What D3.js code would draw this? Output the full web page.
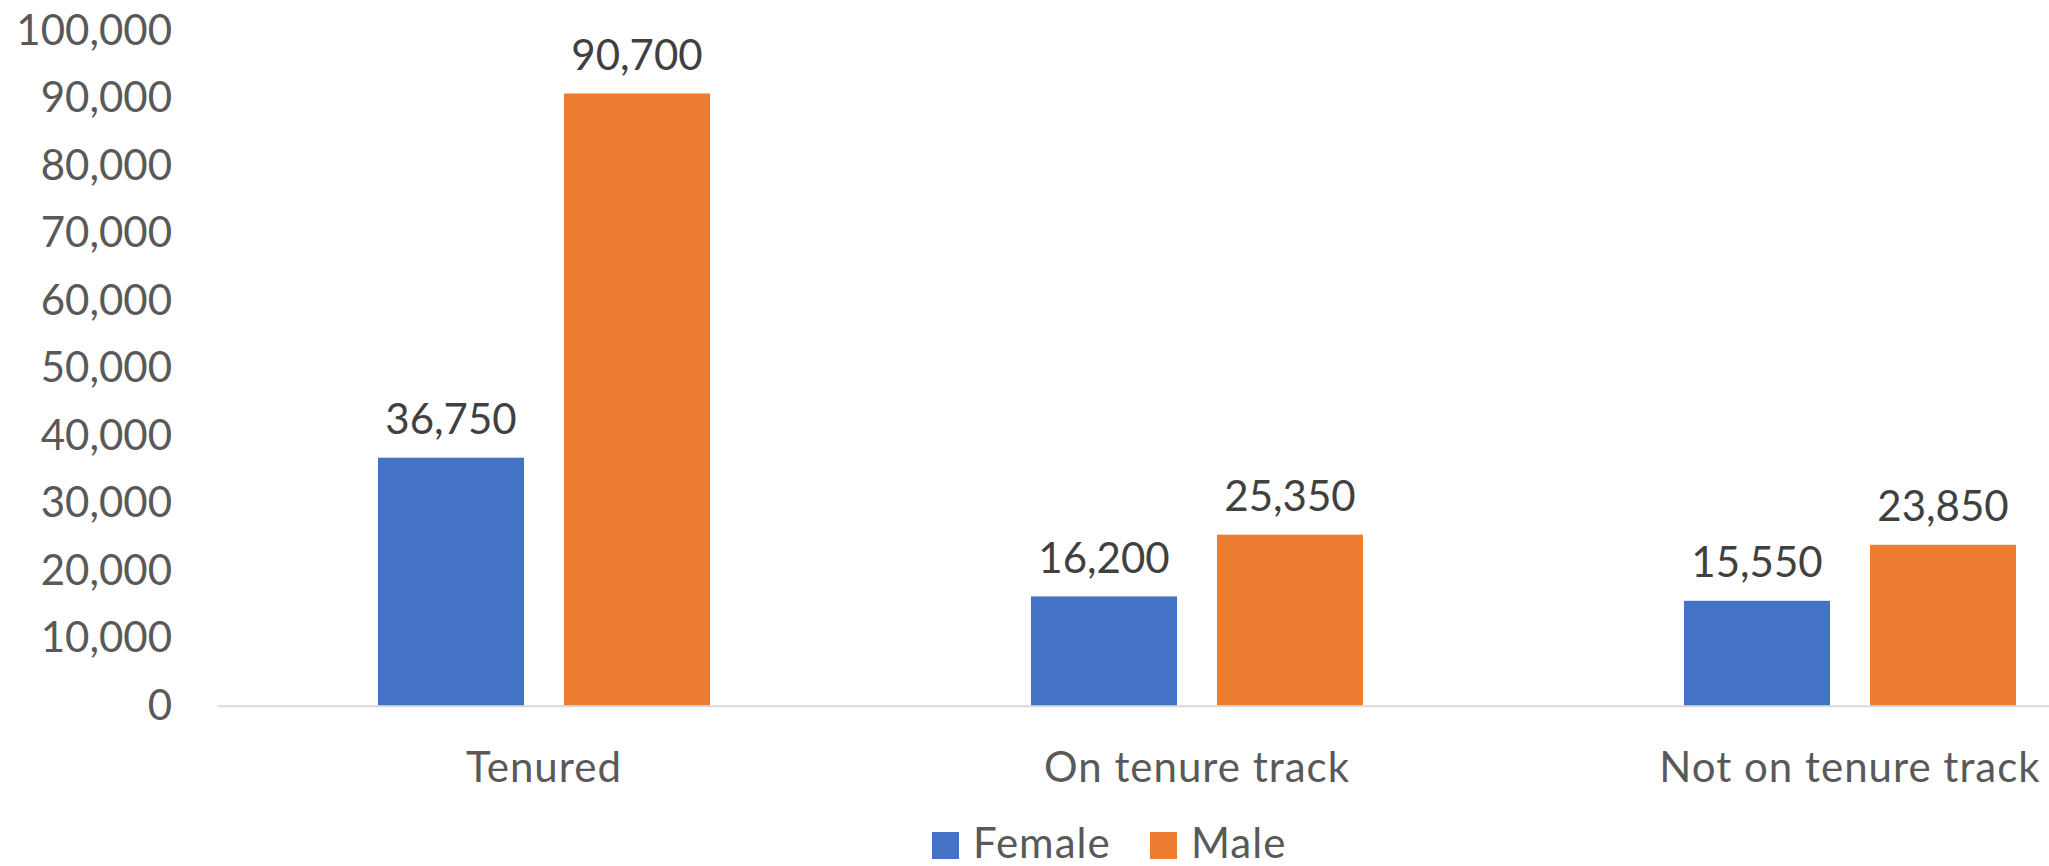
<!DOCTYPE html>
<html>
<head>
<meta charset="utf-8">
<script src="https://cdn.jsdelivr.net/npm/d3@7"></script>
<style>
  body { margin: 0; background: #fff; }
  svg text { font-family: Lato, "Open Sans", sans-serif; }
</style>
</head>
<body>
<svg></svg>
<script>
var categories = ["Tenured", "On tenure track", "Not on tenure track"];
var series = ["Female", "Male"];
var female = [36750, 16200, 15550];
var male = [90700, 25350, 23850];
var yTicks = [0, 10000, 20000, 30000, 40000, 50000, 60000, 70000, 80000, 90000, 100000];

(function () {
  var width = 2049;
  var height = 866;
  var fontSize = 42;

  var svg = d3.select('svg')
        .attr("width", width)
        .attr("height", height);

  var margin = {top: 30.7, left: 217.5};
  var plot_bottom = 705.8;
  var step = 653; // width of one category band

  var x0 = d3.scaleBand()
        .domain(categories)
        .range([margin.left, margin.left + step * categories.length])
        .padding(0);

  // two bars of 146px with a 40px gap, centered in the band
  var x1 = d3.scaleBand()
        .domain(series)
        .range([160.5, step - 160.5])
        .paddingInner(40 / 186)
        .paddingOuter(0);

  var y = d3.scaleLinear()
        .domain([0, 100000])
        .range([plot_bottom, margin.top]);

  var color = d3.scaleOrdinal()
        .domain(series)
        .range(["#4472C4", "#ED7D31"]);

  var fmt = d3.format(",");

  var data = categories.map(function(c, i) {
    return {cat: c, values: [
      {key: "Female", value: female[i]},
      {key: "Male", value: male[i]}
    ]};
  });

  // y axis labels, no line
  var yAxis = svg.append("g")
        .attr("transform", "translate(" + margin.left + ",0)")
        .call(d3.axisLeft(y).tickValues(yTicks).tickSize(0).tickPadding(45.5).tickFormat(fmt));
  yAxis.select(".domain").remove();
  yAxis.selectAll("text")
    .attr("fill", "#595959")
    .attr("font-size", fontSize)
    .attr("font-family", "Lato, 'Open Sans', sans-serif");

  var groups = svg.selectAll(".group")
        .data(data)
        .enter().append("g")
        .attr("class", "group")
        .attr("transform", function(d) { return "translate(" + x0(d.cat) + ",0)"; });

  groups.selectAll("rect")
    .data(function(d) { return d.values; })
    .enter().append("rect")
    .attr("x", function(d) { return x1(d.key); })
    .attr("y", function(d) { return y(d.value); })
    .attr("width", x1.bandwidth())
    .attr("height", function(d) { return y(0) - y(d.value); })
    .attr("fill", function(d) { return color(d.key); });

  // value labels above bars
  groups.selectAll(".val")
    .data(function(d) { return d.values; })
    .enter().append("text")
    .attr("class", "val")
    .attr("x", function(d) { return x1(d.key) + x1.bandwidth() / 2; })
    .attr("y", function(d) { return y(d.value) - 23.5; })
    .attr("text-anchor", "middle")
    .attr("font-size", fontSize)
    .attr("fill", "#404040")
    .text(function(d) { return fmt(d.value); });

  // baseline
  svg.append("line")
    .attr("x1", margin.left)
    .attr("x2", width)
    .attr("y1", y(0) + 0.5)
    .attr("y2", y(0) + 0.5)
    .attr("stroke", "#D9D9D9")
    .attr("stroke-width", 2);

  // category labels
  svg.selectAll(".cat")
    .data(categories)
    .enter().append("text")
    .attr("class", "cat")
    .attr("x", function(d) { return x0(d) + step / 2; })
    .attr("y", 782)
    .attr("text-anchor", "middle")
    .attr("font-size", fontSize)
    .attr("letter-spacing", 1)
    .attr("fill", "#595959")
    .text(function(d) { return d; });

  // legend (kept a few px up so the text box stays inside the page)
  var legendX = [932, 1150];
  var legend = svg.selectAll(".legend")
        .data(series)
        .enter().append("g")
        .attr("class", "legend")
        .attr("transform", function(d, i) { return "translate(" + legendX[i] + ",832)"; });

  legend.append("rect")
    .attr("width", 27)
    .attr("height", 27)
    .attr("fill", function(d) { return color(d); });

  legend.append("text")
    .attr("x", 41)
    .attr("y", 26)
    .attr("font-size", fontSize)
    .attr("letter-spacing", 1)
    .attr("fill", "#595959")
    .text(function(d) { return d; });
})();
</script>
</body>
</html>
